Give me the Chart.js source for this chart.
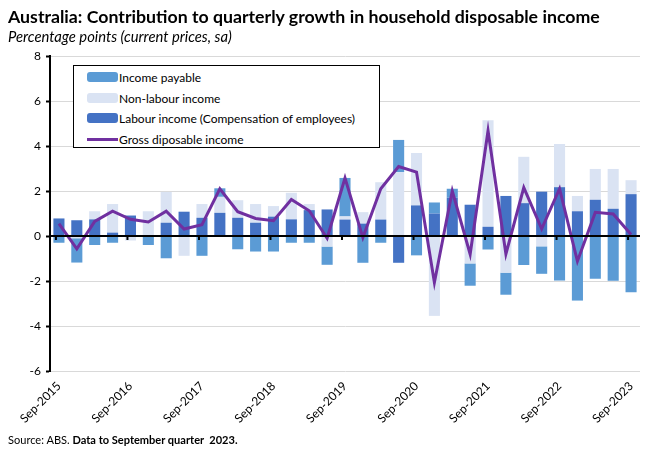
<!DOCTYPE html>
<html>
<head>
<meta charset="utf-8">
<script src="https://cdn.jsdelivr.net/npm/chart.js@4.4.1/dist/chart.umd.min.js"></script>
<style>
  body { margin: 0; background: #fff; font-family: Lato, "Open Sans", sans-serif; color: #000; }
  #wrap { position: relative; width: 650px; height: 455px; overflow: hidden; }
  #chart { position: absolute; left: 0; top: 0; }
  .txt { position: absolute; left: 8px; white-space: nowrap; line-height: 1; }
  #title { top: 8px; font-weight: bold; font-size: 17px; }
  #subtitle { top: 29px; font-style: italic; font-size: 12px; }
  #source { top: 434px; font-size: 11px; }
  #legend {
    position: absolute; left: 73px; top: 65px; width: 305px; height: 81px;
    border: 1px solid #000; background: #fff; font-size: 12px;
  }
  .item { position: absolute; left: 13px; height: 14px; display: flex; align-items: center; }
  .swatch { width: 31px; height: 10px; border-radius: 3px; margin-right: 1px; }
  .lineSw { width: 31px; height: 3px; margin-right: 1px; }
</style>
</head>
<body>
<div id="wrap">
  <canvas id="chart" width="650" height="455"></canvas>
  <div id="title" class="txt">Australia: Contribution to quarterly growth in household disposable income</div>
  <div id="subtitle" class="txt">Percentage points (current prices, sa)</div>
  <div id="source" class="txt">Source: ABS. <b>Data to September quarter&nbsp; 2023.</b></div>
  <div id="legend"></div>
</div>
<script>
// Quarterly categories
const quarters = [
  "Sep-2015", "Dec-2015", "Mar-2016", "Jun-2016",
  "Sep-2016", "Dec-2016", "Mar-2017", "Jun-2017",
  "Sep-2017", "Dec-2017", "Mar-2018", "Jun-2018",
  "Sep-2018", "Dec-2018", "Mar-2019", "Jun-2019",
  "Sep-2019", "Dec-2019", "Mar-2020", "Jun-2020",
  "Sep-2020", "Dec-2020", "Mar-2021", "Jun-2021",
  "Sep-2021", "Dec-2021", "Mar-2022", "Jun-2022",
  "Sep-2022", "Dec-2022", "Mar-2023", "Jun-2023",
  "Sep-2023",
];

// Contributions, percentage points
const labourIncome = [
  0.78, 0.70, 0.74, 0.15, 0.91, 0.02, 0.59, 1.08,
  0.81, 1.03, 0.81, 0.59, 0.86, 0.74, 1.15, 1.18,
  0.73, 0.55, 0.73, -1.19, 1.36, 1.00, 1.70, 1.39,
  0.41, 1.78, 1.46, 1.97, 2.17, 1.10, 1.61, 1.21,
  1.86,
];
const nonLabourIncome = [
  0.00, -0.10, 0.36, 1.27, -0.20, 1.08, 1.37, -0.88,
  0.61, 0.71, 0.78, 0.83, 0.47, 1.18, 0.27, -0.47,
  0.14, 0.51, 1.66, 2.84, 2.33, -3.55, 0.00, -1.22,
  4.74, -1.63, 2.06, -0.46, 1.92, 0.68, 1.37, 1.77,
  0.62,
];
const incomePayable = [
  -0.30, -1.08, -0.40, -0.30, 0.00, -0.40, -0.99, 0.00,
  -0.88, 0.38, -0.59, -0.69, -0.69, -0.30, -0.30, -0.81,
  1.71, -1.19, -0.30, 1.43, -0.86, 0.49, 0.40, -0.99,
  -0.60, -0.98, -1.29, -1.22, -1.98, -2.87, -1.90, -1.99,
  -2.50,
];
const grossDisposableIncome = [
  0.55, -0.57, 0.65, 1.10, 0.74, 0.62, 1.10, 0.31,
  0.50, 2.10, 1.08, 0.78, 0.68, 1.62, 1.12, -0.10,
  2.58, -0.07, 2.10, 3.09, 2.84, -2.07, 2.00, -0.81,
  4.68, -0.80, 2.15, 0.32, 2.10, -1.12, 1.05, 0.98,
  0.07,
];

// Y axis ticks
const yTicks = [-6, -4, -2, 0, 2, 4, 6, 8];

const colors = {
  payable: "#5b9bd5",
  nonLabour: "#dae3f3",
  labour: "#4472c4",
  gdi: "#7030a0",
};

/**
 * Zero line and category ticks drawn above the bars
 */
const zeroLinePlugin = {
  id: "zeroLine",
  afterDatasetsDraw(chart) {
    const { ctx, chartArea, scales } = chart;
    const y0 = scales.y.getPixelForValue(0);
    ctx.save();
    ctx.strokeStyle = "#000";
    ctx.lineWidth = 2;
    ctx.beginPath();
    ctx.moveTo(chartArea.left, y0);
    ctx.lineTo(chartArea.right, y0);
    ctx.stroke();
    quarters.forEach((q, i) => {
      if (i % 4 !== 0) return;
      const x = scales.x.getPixelForValue(i) - 3;
      ctx.beginPath();
      ctx.moveTo(x, y0);
      ctx.lineTo(x, y0 + 4);
      ctx.stroke();
    });
    ctx.restore();
  },
};

const ctx = document.getElementById("chart").getContext("2d");

const chart = new Chart(ctx, {
  data: {
    labels: quarters,
    datasets: [
      {
        type: "line",
        label: "Gross diposable income",
        data: grossDisposableIncome,
        borderColor: colors.gdi,
        backgroundColor: colors.gdi,
        borderWidth: 3,
        pointRadius: 0,
        tension: 0,
        stack: "gdi",
        order: -1,
      },
      {
        type: "bar",
        label: "Labour income (Compensation of employees)",
        data: labourIncome,
        backgroundColor: colors.labour,
        stack: "parts",
      },
      {
        type: "bar",
        label: "Non-labour income",
        data: nonLabourIncome,
        backgroundColor: colors.nonLabour,
        stack: "parts",
      },
      {
        type: "bar",
        label: "Income payable",
        data: incomePayable,
        backgroundColor: colors.payable,
        stack: "parts",
      },
    ],
  },
  options: {
    responsive: false,
    animation: false,
    layout: {
      padding: { top: 56, right: 10, bottom: 0, left: 0 },
    },
    datasets: {
      bar: {
        barPercentage: 0.62,
        categoryPercentage: 1,
      },
    },
    plugins: {
      legend: { display: false },
      tooltip: { enabled: false },
    },
    scales: {
      x: {
        stacked: true,
        offset: true,
        grid: { display: false, drawTicks: false },
        border: { display: false },
        ticks: {
          autoSkip: false,
          minRotation: 45,
          maxRotation: 45,
          padding: 8,
          color: "#000",
          font: { family: "Lato", size: 12 },
          callback: (val, i) => (i % 4 === 0 ? quarters[i] : ""),
        },
        afterFit: (scale) => {
          scale.height = 84;
        },
      },
      y: {
        stacked: true,
        min: yTicks[0],
        max: yTicks[yTicks.length - 1],
        afterBuildTicks: (scale) => {
          scale.ticks = yTicks.map((v) => ({ value: v }));
        },
        grid: {
          color: "#d9d9d9",
          tickColor: "#000",
          tickLength: 4,
          tickWidth: 2,
        },
        border: { color: "#000", width: 2 },
        ticks: {
          padding: 5,
          color: "#000",
          font: { family: "Lato", size: 12 },
        },
        afterFit: (scale) => {
          scale.width = 50;
        },
      },
    },
  },
  plugins: [zeroLinePlugin],
});

/**
 * Build legend box (Income payable first, like the original)
 */
function buildLegend() {
  const legend = document.getElementById("legend");
  const order = [3, 2, 1, 0];
  const rowTops = [4, 25, 45, 66];
  order.forEach((dsIndex, row) => {
    const ds = chart.data.datasets[dsIndex];
    const item = document.createElement("div");
    item.className = "item";
    item.style.top = rowTops[row] + "px";
    const sw = document.createElement("span");
    sw.className = ds.type === "line" ? "lineSw" : "swatch";
    sw.style.background = ds.type === "line" ? ds.borderColor : ds.backgroundColor;
    const label = document.createElement("span");
    label.textContent = ds.label;
    item.appendChild(sw);
    item.appendChild(label);
    legend.appendChild(item);
  });
}

/**
 * Scale a text element's font so it spans the given width
 */
function fitWidth(el, width) {
  const size = parseFloat(getComputedStyle(el).fontSize);
  const w = el.getBoundingClientRect().width;
  el.style.fontSize = (size * width) / w + "px";
}

buildLegend();
fitWidth(document.getElementById("title"), 592);
fitWidth(document.getElementById("subtitle"), 224);
fitWidth(document.getElementById("source"), 230);
</script>
</body>
</html>
